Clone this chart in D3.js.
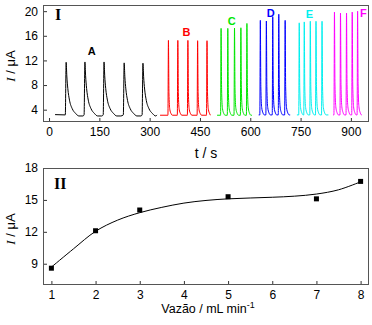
<!DOCTYPE html>
<html lang="en">
<head>
<meta charset="UTF-8">
<title>Fiagrama e vazão</title>
<script src="https://cdn.jsdelivr.net/npm/d3@7/dist/d3.min.js"></script>
<style>
	body { margin: 0; background: #fff; }
	svg text { font-family: Arial, "Liberation Sans", sans-serif; fill: #000; }
	.serif { font-family: "Times New Roman", "Liberation Serif", serif; }
</style>
</head>
<body>
<div id="chart"></div>
<script>
// ---- data ----
var seriesNames = ['A', 'B', 'C', 'D', 'E', 'F'];
var seriesColors = ['#000000', '#ff0000', '#00e600', '#0000ff', '#00f0f0', '#ff00ff'];
var traceStart = [18, 331, 501, 625, 739, 847];
var traceEnd = [322, 481, 605, 719, 833, 933];
var baselines = [3.15, 3.1, 3.1, 3.15, 3.15, 3.15];
var peakTimes = [
	[51, 107, 164, 224, 280],
	[356, 384, 414, 443, 471],
	[513, 533, 553, 572, 590],
	[630, 648, 667, 685, 704],
	[746, 761, 779, 796, 814],
	[851, 869, 887, 904, 920]
];
var peakHeights = [
	[11.7, 11.75, 11.75, 11.6, 11.55],
	[15.25, 15.25, 15.25, 15.2, 15.2],
	[17.2, 17.2, 17.25, 17.3, 18.0],
	[18.5, 18.4, 19.1, 19.5, 18.5],
	[18.1, 18.25, 18.35, 18.35, 18.35],
	[19.85, 19.7, 19.7, 19.85, 20.0]
];
// peak profile: [seconds from apex, fraction of height above baseline]
var slowPeakProfile = [[-2.5, 0], [0, 1], [2, 0.74], [5, 0.5], [10, 0.28], [18, 0.12], [28, 0.03], [38, -0.02], [50, -0.02]];
var fastPeakProfile = [[-1.5, 0], [0, 1], [1.5, 0.3], [4, 0.08], [8, 0.02], [12, 0]];
var labelTimes = [127, 410, 545, 661, 776, 937];
var labelValues = [12.8, 16.0, 17.8, 19.0, 18.9, 19.0];

var flowRates = [1, 2, 3, 5, 7, 8];
var currents = [8.58, 12.1, 14.05, 15.3, 15.1, 16.74];
var fitFlow = [1, 1.5, 2, 2.5, 3, 3.5, 4, 4.5, 5, 5.5, 6, 6.5, 7, 7.5, 8];
var fitCurrent = [8.68, 10.4, 12.05, 13.1, 13.8, 14.3, 14.7, 14.95, 15.1, 15.18, 15.25, 15.35, 15.55, 15.95, 16.7];

var xTicksTop = [0, 150, 300, 450, 600, 750, 900];
var yTicksTop = [4, 8, 12, 16, 20];
var xTicksBottom = [1, 2, 3, 4, 5, 6, 7, 8];
var yTicksBottom = [9, 12, 15, 18];

// ---- layout ----
var W = 372, H = 325;
var svg = d3.select('#chart').append('svg')
	.attr('width', W).attr('height', H);

var top1 = {left: 43, right: 369, top: 5, bottom: 122};
var top2 = {left: 43, right: 369, top: 168, bottom: 285};

var x1 = d3.scaleLinear().domain([-18, 954]).range([top1.left, top1.right]);
var y1 = d3.scaleLinear().domain([2, 21]).range([top1.bottom, top1.top]);
var x2 = d3.scaleLinear().domain([0.81, 8.19]).range([top2.left, top2.right]);
var y2 = d3.scaleLinear().domain([7, 18]).range([top2.bottom, top2.top]);

function drawAxes(box, x, y, xt, yt) {
	svg.append('g')
		.attr('transform', 'translate(0,' + box.bottom + ')')
		.call(d3.axisBottom(x).tickValues(xt).tickSize(-4).tickPadding(5))
		.call(function (g) {
			g.select('.domain').remove();
			g.selectAll('text').attr('font-size', 12).attr('font-family', null);
			g.selectAll('line').attr('stroke', '#333');
		});
	svg.append('g')
		.attr('transform', 'translate(' + box.left + ',0)')
		.call(d3.axisLeft(y).tickValues(yt).tickSize(-4).tickPadding(5))
		.call(function (g) {
			g.select('.domain').remove();
			g.selectAll('text').attr('font-size', 12).attr('font-family', null);
			g.selectAll('line').attr('stroke', '#333');
		});
	svg.append('rect')
		.attr('x', box.left + 0.5).attr('y', box.top + 0.5)
		.attr('width', box.right - box.left - 1).attr('height', box.bottom - box.top - 1)
		.attr('fill', 'none').attr('stroke', '#555').attr('stroke-width', 1);
}

drawAxes(top1, x1, y1, xTicksTop, yTicksTop);
drawAxes(top2, x2, y2, xTicksBottom, yTicksBottom);

// ---- panel I: fiagram ----
var line1 = d3.line()
	.x(function (d) { return x1(d[0]); })
	.y(function (d) { return y1(d[1]); })
	.curve(d3.curveMonotoneX);

seriesNames.forEach(function (name, i) {
	var base = baselines[i];
	var profile = i === 0 ? slowPeakProfile : fastPeakProfile;
	var pts = [[traceStart[i], base + (i === 0 ? 0.05 : 0)]];
	peakTimes[i].forEach(function (t, k) {
		var h = peakHeights[i][k] - base;
		profile.forEach(function (p) {
			var tt = t + p[0];
			if (tt > pts[pts.length - 1][0] && tt < traceEnd[i]) pts.push([tt, base + p[1] * h]);
		});
	});
	pts.push([traceEnd[i], base]);

	svg.append('path')
		.datum(pts)
		.attr('d', line1)
		.attr('fill', 'none')
		.attr('stroke', seriesColors[i])
		.attr('stroke-width', 1);

	svg.append('text')
		.attr('x', x1(labelTimes[i]))
		.attr('y', y1(labelValues[i]))
		.attr('text-anchor', 'middle')
		.attr('font-size', 11)
		.attr('font-weight', 'bold')
		.style('fill', seriesColors[i])
		.text(name);
});

// ---- panel II: current vs flow ----
var line2 = d3.line()
	.x(function (d, i) { return x2(fitFlow[i]); })
	.y(function (d) { return y2(d); })
	.curve(d3.curveCatmullRom);

svg.append('path')
	.datum(fitCurrent)
	.attr('d', line2)
	.attr('fill', 'none')
	.attr('stroke', '#000')
	.attr('stroke-width', 1);

svg.selectAll('.pt')
	.data(flowRates)
	.enter().append('rect')
	.attr('class', 'pt')
	.attr('x', function (d) { return x2(d) - 2.5; })
	.attr('y', function (d, i) { return y2(currents[i]) - 2.5; })
	.attr('width', 5).attr('height', 5)
	.attr('fill', '#000');

// ---- titles ----
svg.append('text').attr('class', 'serif')
	.attr('x', 55).attr('y', 20)
	.attr('font-size', 16).attr('font-weight', 'bold')
	.text('I');
svg.append('text').attr('class', 'serif')
	.attr('x', 54).attr('y', 189)
	.attr('font-size', 16).attr('font-weight', 'bold')
	.text('II');

function yTitle(cy) {
	var t = svg.append('text')
		.attr('transform', 'translate(15,' + cy + ') rotate(-90)')
		.attr('text-anchor', 'middle')
		.attr('font-size', 13);
	t.append('tspan').attr('class', 'serif').attr('font-style', 'italic').text('I');
	t.append('tspan').text(' / \u03bcA');
}
yTitle(66);
yTitle(229);

svg.append('text')
	.attr('x', 206).attr('y', 158)
	.attr('text-anchor', 'middle')
	.attr('font-size', 14)
	.text('t / s');

var xt2 = svg.append('text')
	.attr('x', 208).attr('y', 313)
	.attr('text-anchor', 'middle')
	.attr('font-size', 12.5);
xt2.append('tspan').text('Vazão / mL min');
xt2.append('tspan').attr('font-size', 9).attr('dy', -5).text('-1');
</script>
</body>
</html>
